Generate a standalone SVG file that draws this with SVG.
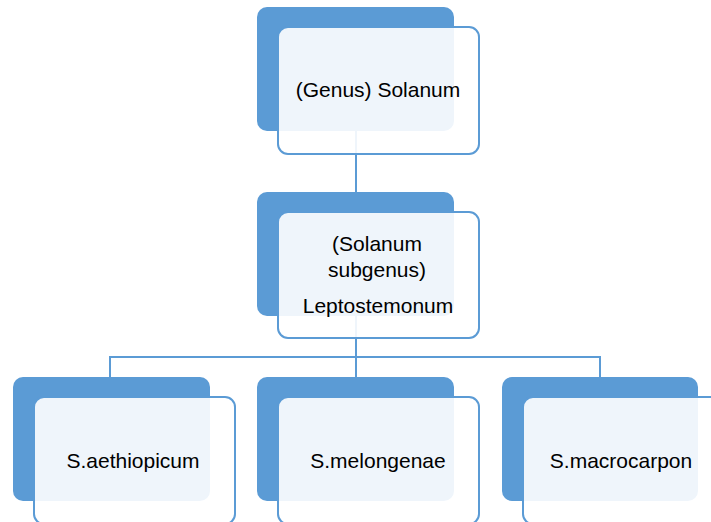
<svg xmlns="http://www.w3.org/2000/svg" width="711" height="522" viewBox="0 0 711 522">
<style>
.back{fill:#5B9BD5;}
.front{fill:#FFFFFF;fill-opacity:0.9;stroke:#5B9BD5;stroke-width:2;}
.conn{stroke:#5B9BD5;stroke-width:2;fill:none;}
text{font-family:"Liberation Sans",Arial,sans-serif;font-size:21px;fill:#000;text-anchor:middle;}
</style>
<rect width="711" height="522" fill="#FFFFFF"/>
<g id="connectors">
<line class="conn" x1="356" y1="131" x2="356" y2="192"/>
<line class="conn" x1="356" y1="316" x2="356" y2="357"/>
<line class="conn" x1="110" y1="357" x2="600" y2="357"/>
<line class="conn" x1="110" y1="356" x2="110" y2="377"/>
<line class="conn" x1="356" y1="356" x2="356" y2="377"/>
<line class="conn" x1="600" y1="356" x2="600" y2="377"/>
</g>
<g id="node-genus">
<rect class="back" x="257" y="7" width="197" height="124" rx="10"/>
<rect class="front" x="278" y="27" width="201" height="127" rx="10"/>
<text x="378" y="97">(Genus) Solanum</text>
</g>
<g id="node-subgenus">
<rect class="back" x="257" y="192" width="197" height="124" rx="10"/>
<rect class="front" x="278" y="212" width="201" height="126" rx="10"/>
<text x="377" y="251">(Solanum</text>
<text x="377" y="277">subgenus)</text>
<text x="378" y="313">Leptostemonum</text>
</g>
<g id="node-aethiopicum">
<rect class="back" x="13" y="377" width="197" height="124" rx="10"/>
<rect class="front" x="34" y="397" width="201" height="127" rx="10"/>
<text x="133" y="468">S.aethiopicum</text>
</g>
<g id="node-melongenae">
<rect class="back" x="257" y="377" width="197" height="124" rx="10"/>
<rect class="front" x="278" y="397" width="201" height="127" rx="10"/>
<text x="378" y="468">S.melongenae</text>
</g>
<g id="node-macrocarpon">
<rect class="back" x="502" y="377" width="196" height="124" rx="10"/>
<rect class="front" x="523" y="397" width="201" height="127" rx="10"/>
<text x="621" y="468">S.macrocarpon</text>
</g>
</svg>
